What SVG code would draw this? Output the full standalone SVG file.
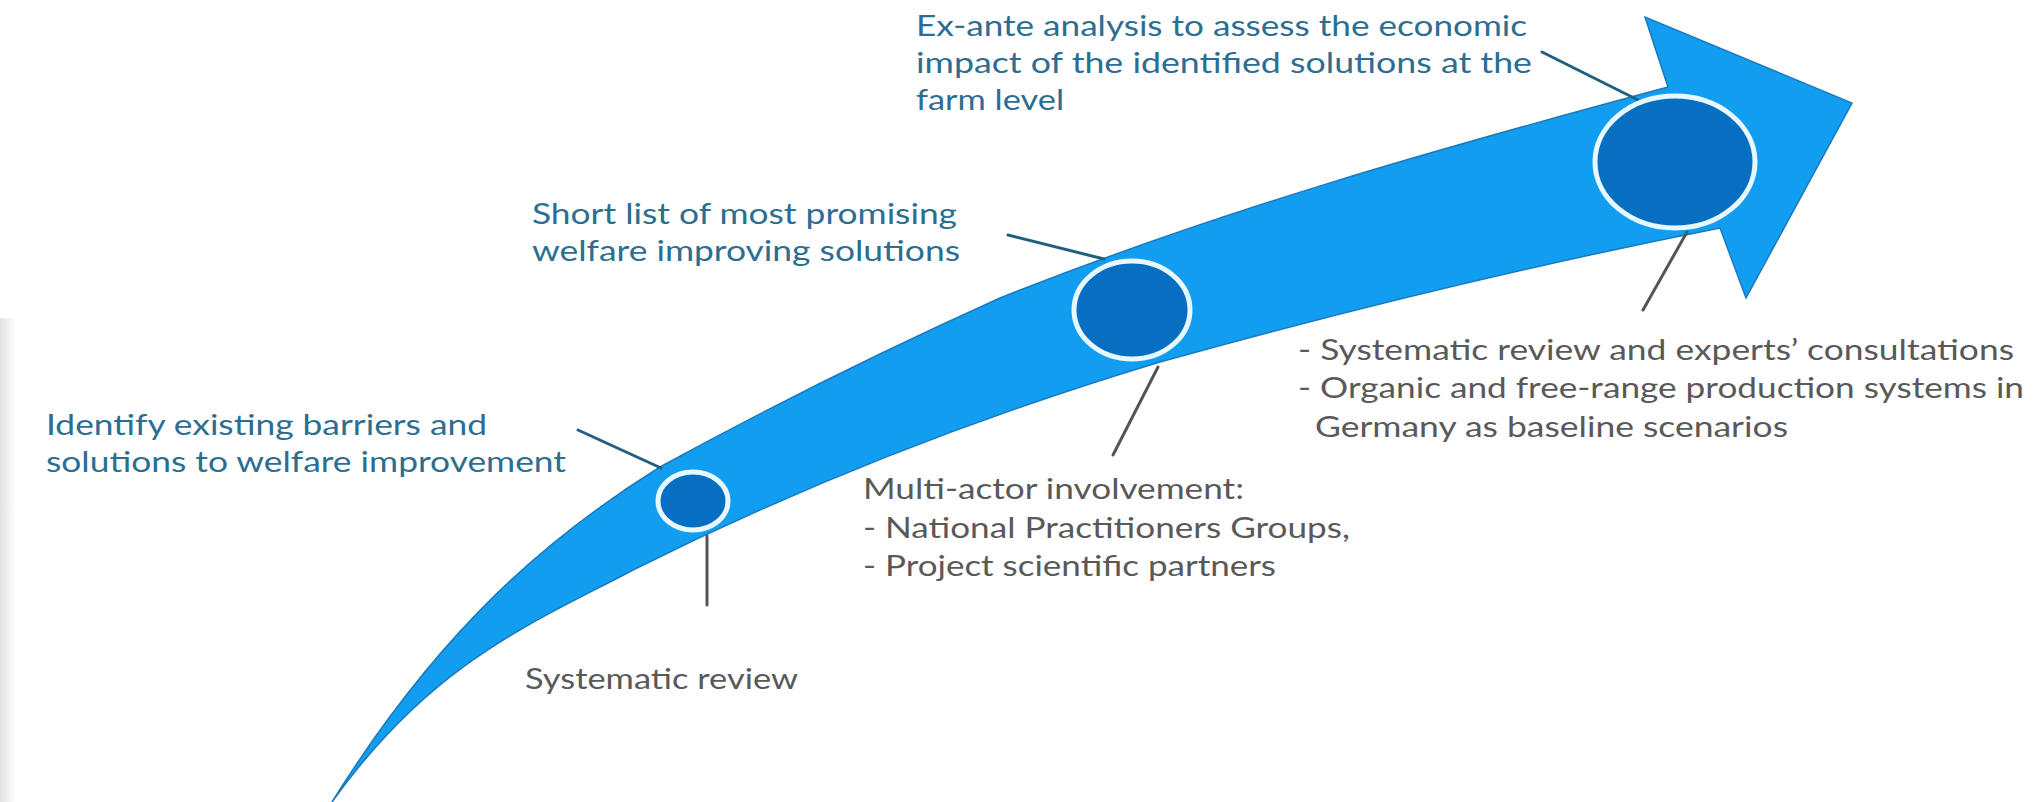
<svg xmlns="http://www.w3.org/2000/svg" width="2035" height="802" viewBox="0 0 2035 802">
  <defs>
    <linearGradient id="edgeShade" x1="0" y1="0" x2="1" y2="0">
      <stop offset="0" stop-color="#e2e2e2"/>
      <stop offset="1" stop-color="#ffffff"/>
    </linearGradient>
    <style>
      .txt { font-family: Lato, "Open Sans", "Liberation Sans", sans-serif; font-size: 29.5px; }
      .blue { fill: #2c6e92; }
      .gray { fill: #595959; }
      .step { fill: #076fc1; stroke: #e8f8ff; stroke-width: 5; }
      .lead-blue { stroke: #215f80; stroke-width: 3; fill: none; stroke-linecap: round; }
      .lead-gray { stroke: #555555; stroke-width: 3; fill: none; stroke-linecap: round; }
    </style>
  </defs>

  <rect width="2035" height="802" fill="#ffffff"/>
  <!-- soft shading along the left border -->
  <rect x="0" y="318" width="16" height="484" fill="url(#edgeShade)"/>

  <!-- curved progress arrow -->
  <g id="arrow">
    <path d="M332,802 C441,627 551,535 660,467 C773,405 887,349 1000,298 C1223,209 1445,147 1668,87 L1645,17 L1852,103 L1746,298 L1720,228 C1533,265 1347,310 1160,362 C984,415 809,482 633,570 C533,623 432,662 332,802 Z" fill="#119ef0" stroke="#1d79bf" stroke-width="1.5" stroke-linejoin="miter"/>
  </g>

  <!-- leader lines from labels to the steps -->
  <g id="connectors">
    <line class="lead-blue" x1="578" y1="430" x2="661" y2="468"/>
    <line class="lead-gray" x1="707" y1="536" x2="707" y2="605"/>
    <line class="lead-blue" x1="1008" y1="235" x2="1104" y2="259"/>
    <line class="lead-gray" x1="1158" y1="367" x2="1113" y2="455"/>
    <line class="lead-blue" x1="1542" y1="52" x2="1638" y2="100"/>
    <line class="lead-gray" x1="1687" y1="232" x2="1643" y2="310"/>
  </g>

  <!-- step 1 -->
  <g id="step1">
    <ellipse class="step" cx="693" cy="501" rx="35" ry="29"/>
  </g>
  <g id="step1-goal">
    <text class="txt blue" x="46" y="435" textLength="441" lengthAdjust="spacingAndGlyphs">Identify existing barriers and</text>
    <text class="txt blue" x="46" y="472" textLength="520" lengthAdjust="spacingAndGlyphs">solutions to welfare improvement</text>
  </g>
  <g id="step1-method">
    <text class="txt gray" x="525" y="689" textLength="273" lengthAdjust="spacingAndGlyphs">Systematic review</text>
  </g>

  <!-- step 2 -->
  <g id="step2">
    <ellipse class="step" cx="1132" cy="310" rx="58" ry="49"/>
  </g>
  <g id="step2-goal">
    <text class="txt blue" x="532" y="224" textLength="425" lengthAdjust="spacingAndGlyphs">Short list of most promising</text>
    <text class="txt blue" x="532" y="261" textLength="428" lengthAdjust="spacingAndGlyphs">welfare improving solutions</text>
  </g>
  <g id="step2-method">
    <text class="txt gray" x="863" y="499" textLength="381" lengthAdjust="spacingAndGlyphs">Multi-actor involvement:</text>
    <text class="txt gray" x="863" y="538" textLength="487" lengthAdjust="spacingAndGlyphs">- National Practitioners Groups,</text>
    <text class="txt gray" x="863" y="576" textLength="413" lengthAdjust="spacingAndGlyphs">- Project scientific partners</text>
  </g>

  <!-- step 3 -->
  <g id="step3">
    <ellipse class="step" cx="1675" cy="162" rx="80" ry="66"/>
  </g>
  <g id="step3-goal">
    <text class="txt blue" x="916" y="36" textLength="611" lengthAdjust="spacingAndGlyphs">Ex-ante analysis to assess the economic</text>
    <text class="txt blue" x="916" y="73" textLength="616" lengthAdjust="spacingAndGlyphs">impact of the identified solutions at the</text>
    <text class="txt blue" x="916" y="110" textLength="148" lengthAdjust="spacingAndGlyphs">farm level</text>
  </g>
  <g id="step3-method">
    <text class="txt gray" x="1298" y="360" textLength="716" lengthAdjust="spacingAndGlyphs">- Systematic review and experts’ consultations</text>
    <text class="txt gray" x="1298" y="398" textLength="726" lengthAdjust="spacingAndGlyphs">- Organic and free-range production systems in</text>
    <text class="txt gray" x="1315" y="437" textLength="473" lengthAdjust="spacingAndGlyphs">Germany as baseline scenarios</text>
  </g>
</svg>
